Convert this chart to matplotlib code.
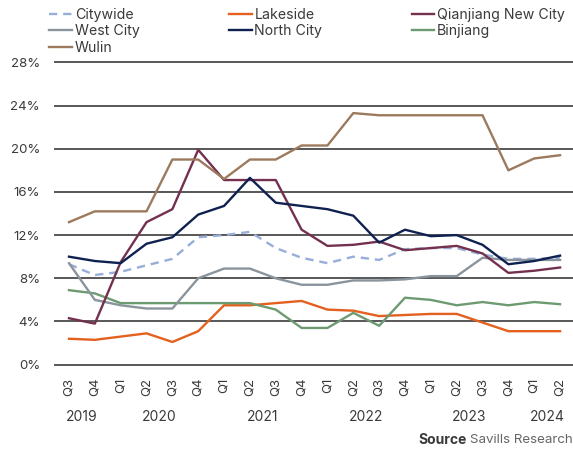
import matplotlib
matplotlib.use("Agg")
import matplotlib.pyplot as plt
from matplotlib.transforms import blended_transform_factory

plt.rcParams['font.family'] = ['Inter', 'DejaVu Sans']

# quarters Q3 2019 .. Q2 2024
quarters = ['Q3', 'Q4', 'Q1', 'Q2', 'Q3', 'Q4', 'Q1', 'Q2', 'Q3', 'Q4',
            'Q1', 'Q2', 'Q3', 'Q4', 'Q1', 'Q2', 'Q3', 'Q4', 'Q1', 'Q2']
years = ['2019', '2020', '2021', '2022', '2023', '2024']
year_pos = [0.5, 3.5, 7.5, 11.5, 15.5, 18.5]

citywide = [9.3, 8.3, 8.6, 9.2, 9.8, 11.8, 12.0, 12.3, 10.8, 9.9,
            9.4, 10.0, 9.7, 10.7, 10.8, 10.8, 10.2, 9.8, 9.8, 9.9]
lakeside = [2.4, 2.3, 2.6, 2.9, 2.1, 3.1, 5.5, 5.5, 5.7, 5.9,
            5.1, 5.0, 4.5, 4.6, 4.7, 4.7, 3.9, 3.1, 3.1, 3.1]
qianjiang = [4.3, 3.8, 9.5, 13.2, 14.4, 19.9, 17.1, 17.1, 17.1, 12.5,
             11.0, 11.1, 11.4, 10.6, 10.8, 11.0, 10.3, 8.5, 8.7, 9.0]
west_city = [9.4, 6.0, 5.5, 5.2, 5.2, 8.0, 8.9, 8.9, 8.0, 7.4,
             7.4, 7.8, 7.8, 7.9, 8.2, 8.2, 9.9, 9.7, 9.7, 9.7]
north_city = [10.0, 9.6, 9.4, 11.2, 11.8, 13.9, 14.7, 17.3, 15.0, 14.7,
              14.4, 13.8, 11.3, 12.5, 11.9, 12.0, 11.1, 9.3, 9.6, 10.1]
binjiang = [6.9, 6.6, 5.7, 5.7, 5.7, 5.7, 5.7, 5.7, 5.1, 3.4,
            3.4, 4.8, 3.6, 6.2, 6.0, 5.5, 5.8, 5.5, 5.8, 5.6]
wulin = [13.2, 14.2, 14.2, 14.2, 19.0, 19.0, 17.2, 19.0, 19.0, 20.3,
         20.3, 23.3, 23.1, 23.1, 23.1, 23.1, 23.1, 18.0, 19.1, 19.4]

yticks = [0, 4, 8, 12, 16, 20, 24, 28]

text_col = '#3a3a3a'
x = list(range(len(quarters)))

fig = plt.figure(figsize=(5.73, 4.71), dpi=100)
ax = fig.add_axes([54 / 573, 0.2189, 1 - 54 / 573, 0.8745 - 0.2189])

for v in yticks:
    ax.axhline(v, color='#4a4a4a', lw=1.3, zorder=1)

# legend order (column-first, 3 columns)
series = [
    ('Citywide', citywide, '#97aed8', (0, (3.5, 2.5))),
    ('West City', west_city, '#8a949d', '-'),
    ('Wulin', wulin, '#9b7a5d', '-'),
    ('Lakeside', lakeside, '#e4601e', '-'),
    ('North City', north_city, '#0f2150', '-'),
    ('Qianjiang New City', qianjiang, '#74304f', '-'),
    ('Binjiang', binjiang, '#6e9a72', '-'),
]
handles = {}
order_draw = ['Citywide', 'Lakeside', 'Binjiang', 'West City', 'Qianjiang New City', 'North City', 'Wulin']
for name, vals, col, ls in series:
    z = 3 + order_draw.index(name)
    h, = ax.plot(x, vals, color=col, ls=ls, lw=1.7, zorder=z, label=name)
    handles[name] = h

ax.set_xlim(-0.58, 19.5)
ax.set_ylim(-0.3, 28.3)
ax.set_yticks(yticks)
ax.set_yticklabels([f'{v}%' for v in yticks])
ax.set_xticks(x)
ax.set_xticklabels(quarters, rotation=90)
ax.tick_params(axis='both', length=0, colors=text_col, labelsize=9.5)
ax.tick_params(axis='y', pad=10)
ax.tick_params(axis='x', pad=7)
for s in ax.spines.values():
    s.set_visible(False)

trans = blended_transform_factory(ax.transData, fig.transFigure)
for yr, pos in zip(years, year_pos):
    ax.text(pos, 0.115, yr, transform=trans, ha='center', va='center',
            fontsize=10, color=text_col)

fig.legend([handles[s[0]] for s in series], [s[0] for s in series],
           ncol=3, loc='upper left', bbox_to_anchor=(38 / 573, 1.008),
           frameon=False, fontsize=10.2, handlelength=1.6, handletextpad=0.2,
           columnspacing=6.3, labelspacing=0.2, borderpad=0.3,
           labelcolor=text_col)

fig.text(418 / 573, 0.066, 'Source', fontsize=10, fontweight='bold',
         color=text_col, va='center')
fig.text(470 / 573, 0.066, 'Savills Research', fontsize=9.6,
         color='#666666', va='center')

fig.savefig('out.png', dpi=100)
